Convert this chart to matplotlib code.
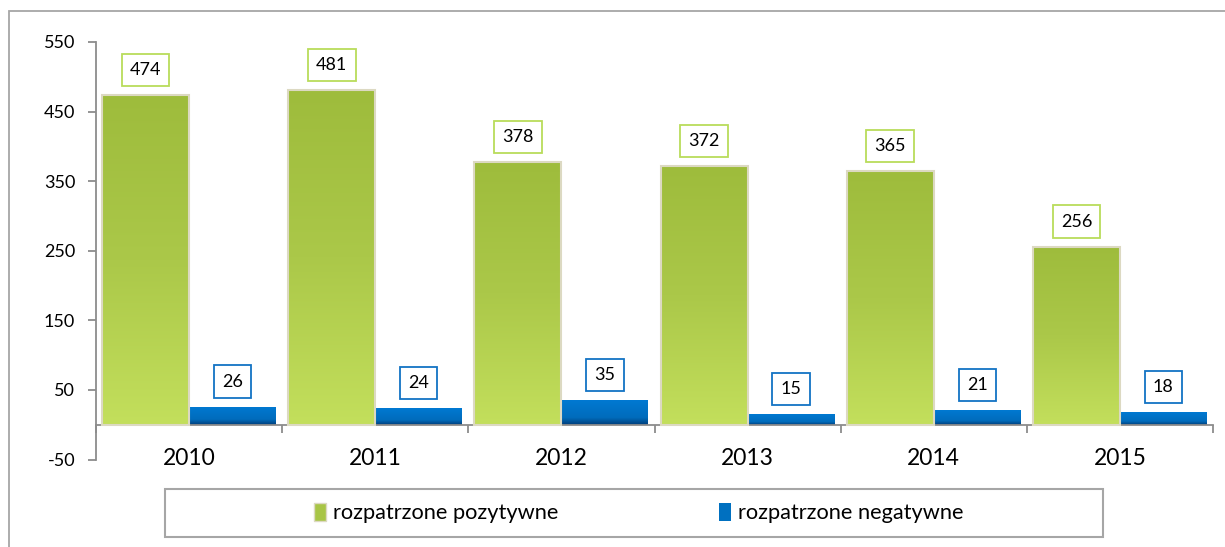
import numpy as np
import matplotlib.pyplot as plt
from matplotlib.colors import LinearSegmentedColormap
from matplotlib.patches import Rectangle, Patch

years = ['2010', '2011', '2012', '2013', '2014', '2015']
positive = [474, 481, 378, 372, 365, 256]
negative = [26, 24, 35, 15, 21, 18]
labels = ['rozpatrzone pozytywne', 'rozpatrzone negatywne']

plt.rcParams['font.family'] = ['Lato', 'DejaVu Sans']
plt.rcParams['axes.unicode_minus'] = False
grey = '#8C8C8C'

fig = plt.figure(figsize=(12.25, 5.47), dpi=100)
ax = fig.add_axes([96/1225, 87.5/547, (1213-96)/1225, (459.5-42)/547])

# gradient colour maps (value 0 = bottom of bar)
green_cmap = LinearSegmentedColormap.from_list('g', ['#C3DF5C', '#ABC849', '#9EBC3C'])
blue_cmap = LinearSegmentedColormap.from_list('b', [(0, '#003C78'), (0.3, '#006CBC'), (1, '#0079D2')])
grad = np.linspace(0, 1, 256).reshape(-1, 1)

x = np.arange(len(years))
w = 0.467
b1 = ax.bar(x - w/2, positive, w, facecolor='none', edgecolor='#DCD9C2', linewidth=1.5, zorder=3)
b2 = ax.bar(x + w/2, negative, w, facecolor='none', edgecolor='none', zorder=3)


def fill_gradient(bars, cmap):
    for b in bars:
        x0, y0 = b.get_x(), b.get_y()
        im = ax.imshow(grad, cmap=cmap, origin='lower', aspect='auto', zorder=2,
                       extent=(x0, x0 + b.get_width(), y0, y0 + b.get_height()))
        im.set_clip_path(b)


fill_gradient(b1, green_cmap)
fill_gradient(b2, blue_cmap)

# value labels in boxes
for bars, vals, ec in [(b1, positive, '#B9DC5A'), (b2, negative, '#1273C4')]:
    for b, v in zip(bars, vals):
        ax.annotate(str(v), (b.get_x() + b.get_width()/2, v), xytext=(0, 18),
                    textcoords='offset points', ha='center', va='center', fontsize=13,
                    bbox=dict(boxstyle='square,pad=0.45', fc='white', ec=ec, lw=1.3), zorder=5)

ax.set_xlim(-0.5, len(years) - 0.5)
ax.set_ylim(-50, 550)
ax.set_yticks(np.arange(-50, 551, 100))
ax.tick_params(axis='y', labelsize=13, colors=grey, labelcolor='black', length=6, width=1.3, pad=9)

ax.set_xticks(np.arange(-0.5, len(years), 1))
ax.set_xticklabels([])
ax.set_xticks(x, minor=True)
ax.set_xticklabels(years, minor=True)
ax.tick_params(axis='x', which='major', colors=grey, length=6, width=1.3)
ax.tick_params(axis='x', which='minor', length=0, pad=17, labelsize=16.5)

for s in ['top', 'right']:
    ax.spines[s].set_visible(False)
ax.spines['bottom'].set_position(('data', 0))
for s in ['left', 'bottom']:
    ax.spines[s].set_color(grey)
    ax.spines[s].set_linewidth(1.3)

# outer chart border (only left and top visible)
fig.patches.append(Rectangle((9/1225, -0.1), 1.2, 1.1 - 11/547, transform=fig.transFigure,
                             fill=False, ec='#A6A6A6', lw=1.3))
# legend box
fig.patches.append(Rectangle((165/1225, 10/547), 938/1225, 48/547, transform=fig.transFigure,
                             fill=False, ec='#A6A6A6', lw=1.5))

handles = [Patch(facecolor='#A8C546', edgecolor='#DCD9C2'), Patch(facecolor='#0070C0')]
fig.legend(handles, labels, loc='center left', bbox_to_anchor=(314/1225, 34/547), ncol=2,
           frameon=False, fontsize=15.7, handlelength=0.55, handleheight=0.9, handletextpad=0.3,
           columnspacing=7.4, borderpad=0, borderaxespad=0)

fig.savefig('out.png', dpi=100)
